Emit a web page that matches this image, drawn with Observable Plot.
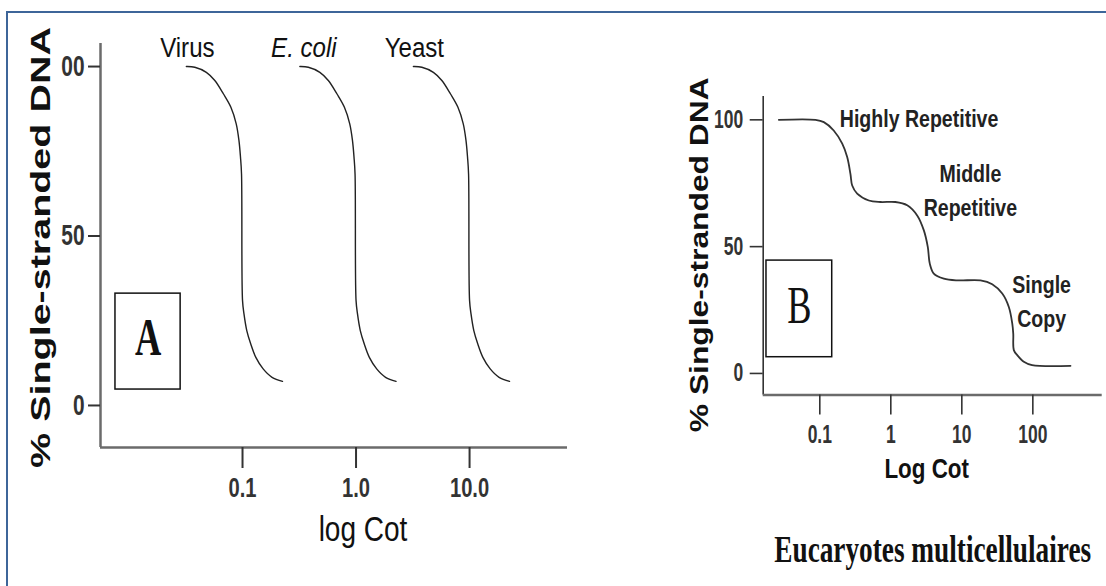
<!DOCTYPE html>
<html><head><meta charset="utf-8">
<script src="https://cdn.jsdelivr.net/npm/d3@7"></script>
<script src="https://cdn.jsdelivr.net/npm/@observablehq/plot@0.6"></script>
<style>
html,body{margin:0;padding:0;background:#fff;}
#wrap{position:relative;width:1106px;height:586px;overflow:hidden;background:#fff;}
#wrap svg{position:absolute;top:0;}
#border{position:absolute;left:6px;top:11px;width:1200px;height:700px;border-left:2px solid #3d6599;border-top:2px solid #3d6599;z-index:5;pointer-events:none;}
</style></head><body>
<div id="wrap"><div id="border"></div></div>
<script>
// ---------- Panel A data (renaturation curves) ----------
const seriesA = ["Virus", "E. coli", "Yeast"];
const virusCot = [0.032, 0.038, 0.048, 0.057, 0.068, 0.079, 0.088, 0.093, 0.096, 0.098, 0.100, 0.103, 0.109, 0.118, 0.131, 0.152, 0.182, 0.225];
const virusPct = [100, 99.8, 98.3, 95.9, 91.9, 88, 83.1, 78.2, 73.2, 68.3, 31, 27, 22.1, 18.2, 14.2, 10.8, 8.3, 7.1];
const ecoliCot = [0.32, 0.38, 0.48, 0.57, 0.68, 0.79, 0.88, 0.93, 0.96, 0.98, 1.00, 1.03, 1.09, 1.18, 1.31, 1.52, 1.82, 2.25];
const ecoliPct = [100, 99.8, 98.3, 95.9, 91.9, 88, 83.1, 78.2, 73.2, 68.3, 31, 27, 22.1, 18.2, 14.2, 10.8, 8.3, 7.1];
const yeastCot = [3.2, 3.8, 4.8, 5.7, 6.8, 7.9, 8.8, 9.3, 9.6, 9.8, 10.0, 10.3, 10.9, 11.8, 13.1, 15.2, 18.2, 22.5];
const yeastPct = [100, 99.8, 98.3, 95.9, 91.9, 88, 83.1, 78.2, 73.2, 68.3, 31, 27, 22.1, 18.2, 14.2, 10.8, 8.3, 7.1];
const xTicksA = [0.1, 1, 10];
const xTickLabelsA = ["0.1", "1.0", "10.0"];
const yTicksA = [0, 50, 100];
const yTickLabelsA = ["0", "50", "00"];

// ---------- Panel B data (eukaryote Cot curve) ----------
const cotB = [0.0265, 0.087, 0.114, 0.157, 0.207, 0.243, 0.27, 0.286, 0.336, 0.49, 0.716, 1.16, 1.70, 2.35, 2.92, 3.32, 3.54, 4.03, 5.58, 8.6, 18.3, 26.8, 37.1, 45.9, 51.3, 53, 54, 60.3, 74.6, 97.6, 339];
const pctB = [100, 100, 99.1, 95.8, 90.6, 85.3, 78.7, 74.1, 70.9, 68.2, 67.6, 67.6, 66.3, 62.3, 56.4, 49.8, 43.3, 39.4, 37.4, 36.7, 36.7, 35.2, 31.5, 26.2, 19.7, 15.7, 9.2, 7.2, 4.6, 3.3, 3.0];
const labelsB = ["Highly Repetitive", "Middle\nRepetitive", "Single\nCopy"];
const labelCotB = [2.5, 13.2, 133];
const labelPctB = [101.5, 73.2, 29.3];
const xTicksB = [0.1, 1, 10, 100];
const xTickLabelsB = ["0.1", "1", "10", "100"];
const yTicksB = [0, 50, 100];
const yTickLabelsB = ["0", "50", "100"];

const yTitle = "% Single-stranded DNA";
const caption = "Eucaryotes multicellulaires";

const sans = "'Liberation Sans', Arial, Helvetica, sans-serif";
const serif = "'Liberation Serif', 'Times New Roman', serif";
const H = 586;

// ---------- Panel A ----------
const rowsA = [];
[[virusCot, virusPct], [ecoliCot, ecoliPct], [yeastCot, yeastPct]].forEach(([c, p], k) =>
  c.forEach((v, i) => rowsA.push({series: seriesA[k], cot: v, pct: p[i]})));
const startsA = seriesA.map(s => rowsA.find(r => r.series === s));
const xDomA = [0.00561, 72.9], yDomA = [-12.4, 106.8];

const plotA = Plot.plot({
  width: 600, height: H,
  marginLeft: 100, marginRight: 33, marginTop: 43, marginBottom: 139,
  style: {background: "transparent", fontFamily: sans, overflow: "visible"},
  x: {type: "log", domain: xDomA},
  y: {domain: yDomA},
  marks: [
    Plot.ruleX([xDomA[0]], {stroke: "#6b6b6b", strokeWidth: 2.5}),
    Plot.ruleY([yDomA[0]], {stroke: "#6b6b6b", strokeWidth: 2.5}),
    Plot.axisX({ticks: xTicksA, tickFormat: d => xTickLabelsA[xTicksA.indexOf(d)], tickSize: 21, tickPadding: 9,
      label: null, fontSize: 28, fontWeight: "bold", color: "#333", strokeWidth: 2}),
    Plot.axisY({ticks: yTicksA, tickFormat: d => yTickLabelsA[yTicksA.indexOf(d)], tickSize: 12, tickPadding: 4,
      label: null, fontSize: 29, fontWeight: "bold", color: "#333", strokeWidth: 2}),
    Plot.line(rowsA, {x: "cot", y: "pct", z: "series", curve: "catmull-rom", stroke: "#222", strokeWidth: 1.4}),
    Plot.text(startsA.filter(d => d.series !== "E. coli"), {x: "cot", y: "pct", text: "series", dx: 1, dy: -19,
      lineAnchor: "middle", fontSize: 28, fill: "#111"}),
    Plot.text(startsA.filter(d => d.series === "E. coli"), {x: "cot", y: "pct", text: "series", dx: 4, dy: -19,
      lineAnchor: "middle", fontSize: 28, fontStyle: "italic", fill: "#111"}),
    Plot.text([yTitle], {text: d => d, frameAnchor: "left", rotate: -90, dx: -59, dy: 2, textAnchor: "middle",
      lineAnchor: "middle", fontSize: 28, fontWeight: "bold", fill: "#111"}),
    Plot.text(["log Cot"], {text: d => d, frameAnchor: "bottom", dx: 29, dy: 69, textAnchor: "middle",
      lineAnchor: "top", fontSize: 35, fill: "#111"}),
    Plot.rect([0], {x1: 0.0076, x2: 0.0285, y1: 4.7, y2: 33, fill: "white", stroke: "#111", strokeWidth: 1.5}),
    Plot.text(["A"], {text: d => d, x: 0.01472, y: 18.85, dy: -3, lineAnchor: "middle", fontFamily: serif,
      fontWeight: "bold", fontSize: 52, fill: "#111"})
  ]
});

// ---------- Panel B ----------
const rowsB = cotB.map((c, i) => ({cot: c, pct: pctB[i]}));
const labRowsB = labelsB.map((t, i) => ({text: t, cot: labelCotB[i], pct: labelPctB[i]}));
const xDomB = [0.01596, 948], yDomB = [-8.5, 109.2];

const plotB = Plot.plot({
  width: 506, height: H,
  marginLeft: 162.7, marginRight: 4.3, marginTop: 96, marginBottom: 191.5,
  style: {background: "transparent", fontFamily: sans, overflow: "visible"},
  x: {type: "log", domain: xDomB},
  y: {domain: yDomB},
  marks: [
    Plot.ruleX([xDomB[0]], {stroke: "#333", strokeWidth: 1.6}),
    Plot.ruleY([yDomB[0]], {stroke: "#6b6b6b", strokeWidth: 2.5}),
    Plot.axisX({ticks: xTicksB, tickFormat: d => xTickLabelsB[xTicksB.indexOf(d)], tickSize: 20, tickPadding: 10,
      label: null, fontSize: 25, fontWeight: "bold", color: "#333", strokeWidth: 1.6}),
    Plot.axisY({ticks: yTicksB, tickFormat: d => yTickLabelsB[yTicksB.indexOf(d)], tickSize: 13, tickPadding: 7,
      label: null, fontSize: 25, fontWeight: "bold", color: "#333", strokeWidth: 1.6}),
    Plot.line(rowsB, {x: "cot", y: "pct", curve: "catmull-rom", stroke: "#333", strokeWidth: 1.8}),
    Plot.text(labRowsB, {x: "cot", y: "pct", text: "text", lineAnchor: "middle", lineHeight: 1.5,
      fontSize: 23, fontWeight: "bold", fill: "#222"}),
    Plot.text([yTitle], {text: d => d, frameAnchor: "left", rotate: -90, dx: -63.7, dy: 9, textAnchor: "middle",
      lineAnchor: "middle", fontSize: 25, fontWeight: "bold", fill: "#111"}),
    Plot.text(["Log Cot"], {text: d => d, frameAnchor: "bottom", dx: -6, dy: 63, textAnchor: "middle",
      lineAnchor: "top", fontSize: 28, fontWeight: "bold", fill: "#111"}),
    Plot.text([caption], {text: d => d, frameAnchor: "bottom", dx: 0, dy: 140, textAnchor: "middle",
      lineAnchor: "top", fontSize: 38, fontWeight: "bold", fontFamily: serif, fill: "#111"}),
    Plot.rect([0], {x1: 0.01775, x2: 0.1496, y1: 6.4, y2: 44.5, fill: "white", stroke: "#111", strokeWidth: 1.5}),
    Plot.text(["B"], {text: d => d, x: 0.0515, y: 25.45, dy: -3, lineAnchor: "middle", fontFamily: serif,
      fontSize: 52, fill: "#111"})
  ]
});

const wrap = document.getElementById("wrap");
plotA.style.left = "0px";
plotB.style.left = "600px";
wrap.insertBefore(plotA, wrap.firstChild);
wrap.insertBefore(plotB, wrap.firstChild);

// condense / stretch text along its own direction to match the reference's proportions
function fit(el, f, target) {
  const L = el.getComputedTextLength();
  if (!(L > 0)) return;
  const k = target ? target / L : f;
  const x = +el.getAttribute("x") || 0;
  const old = el.getAttribute("transform") || "";
  el.setAttribute("transform", `${old} translate(${x},0) scale(${k.toFixed(4)},1) translate(${-x},0)`);
}
function squeezeGroup(svg, label, f) {
  svg.querySelectorAll(`g[aria-label="${label}"] text`).forEach(t => fit(t, f));
}
function squeezeText(svg, contents, f, target) {
  svg.querySelectorAll("text").forEach(e => {
    if (contents.includes(e.textContent)) fit(e, f, target);
  });
}
squeezeGroup(plotA, "x-axis tick label", 0.72);
squeezeGroup(plotA, "y-axis tick label", 0.72);
squeezeText(plotA, seriesA, 0.86);
squeezeText(plotA, [yTitle], 1, 441);
squeezeText(plotA, ["log Cot"], 0.8);
squeezeText(plotA, ["A"], 0.7);
squeezeGroup(plotB, "x-axis tick label", 0.7);
squeezeGroup(plotB, "y-axis tick label", 0.7);
squeezeText(plotB, labelsB.map(s => s.replace("\n", "")), 0.85);
squeezeText(plotB, [yTitle], 1, 355);
squeezeText(plotB, ["Log Cot"], 0.8);
squeezeText(plotB, [caption], 1, 317);
squeezeText(plotB, ["B"], 0.7);
</script>
</body></html>
